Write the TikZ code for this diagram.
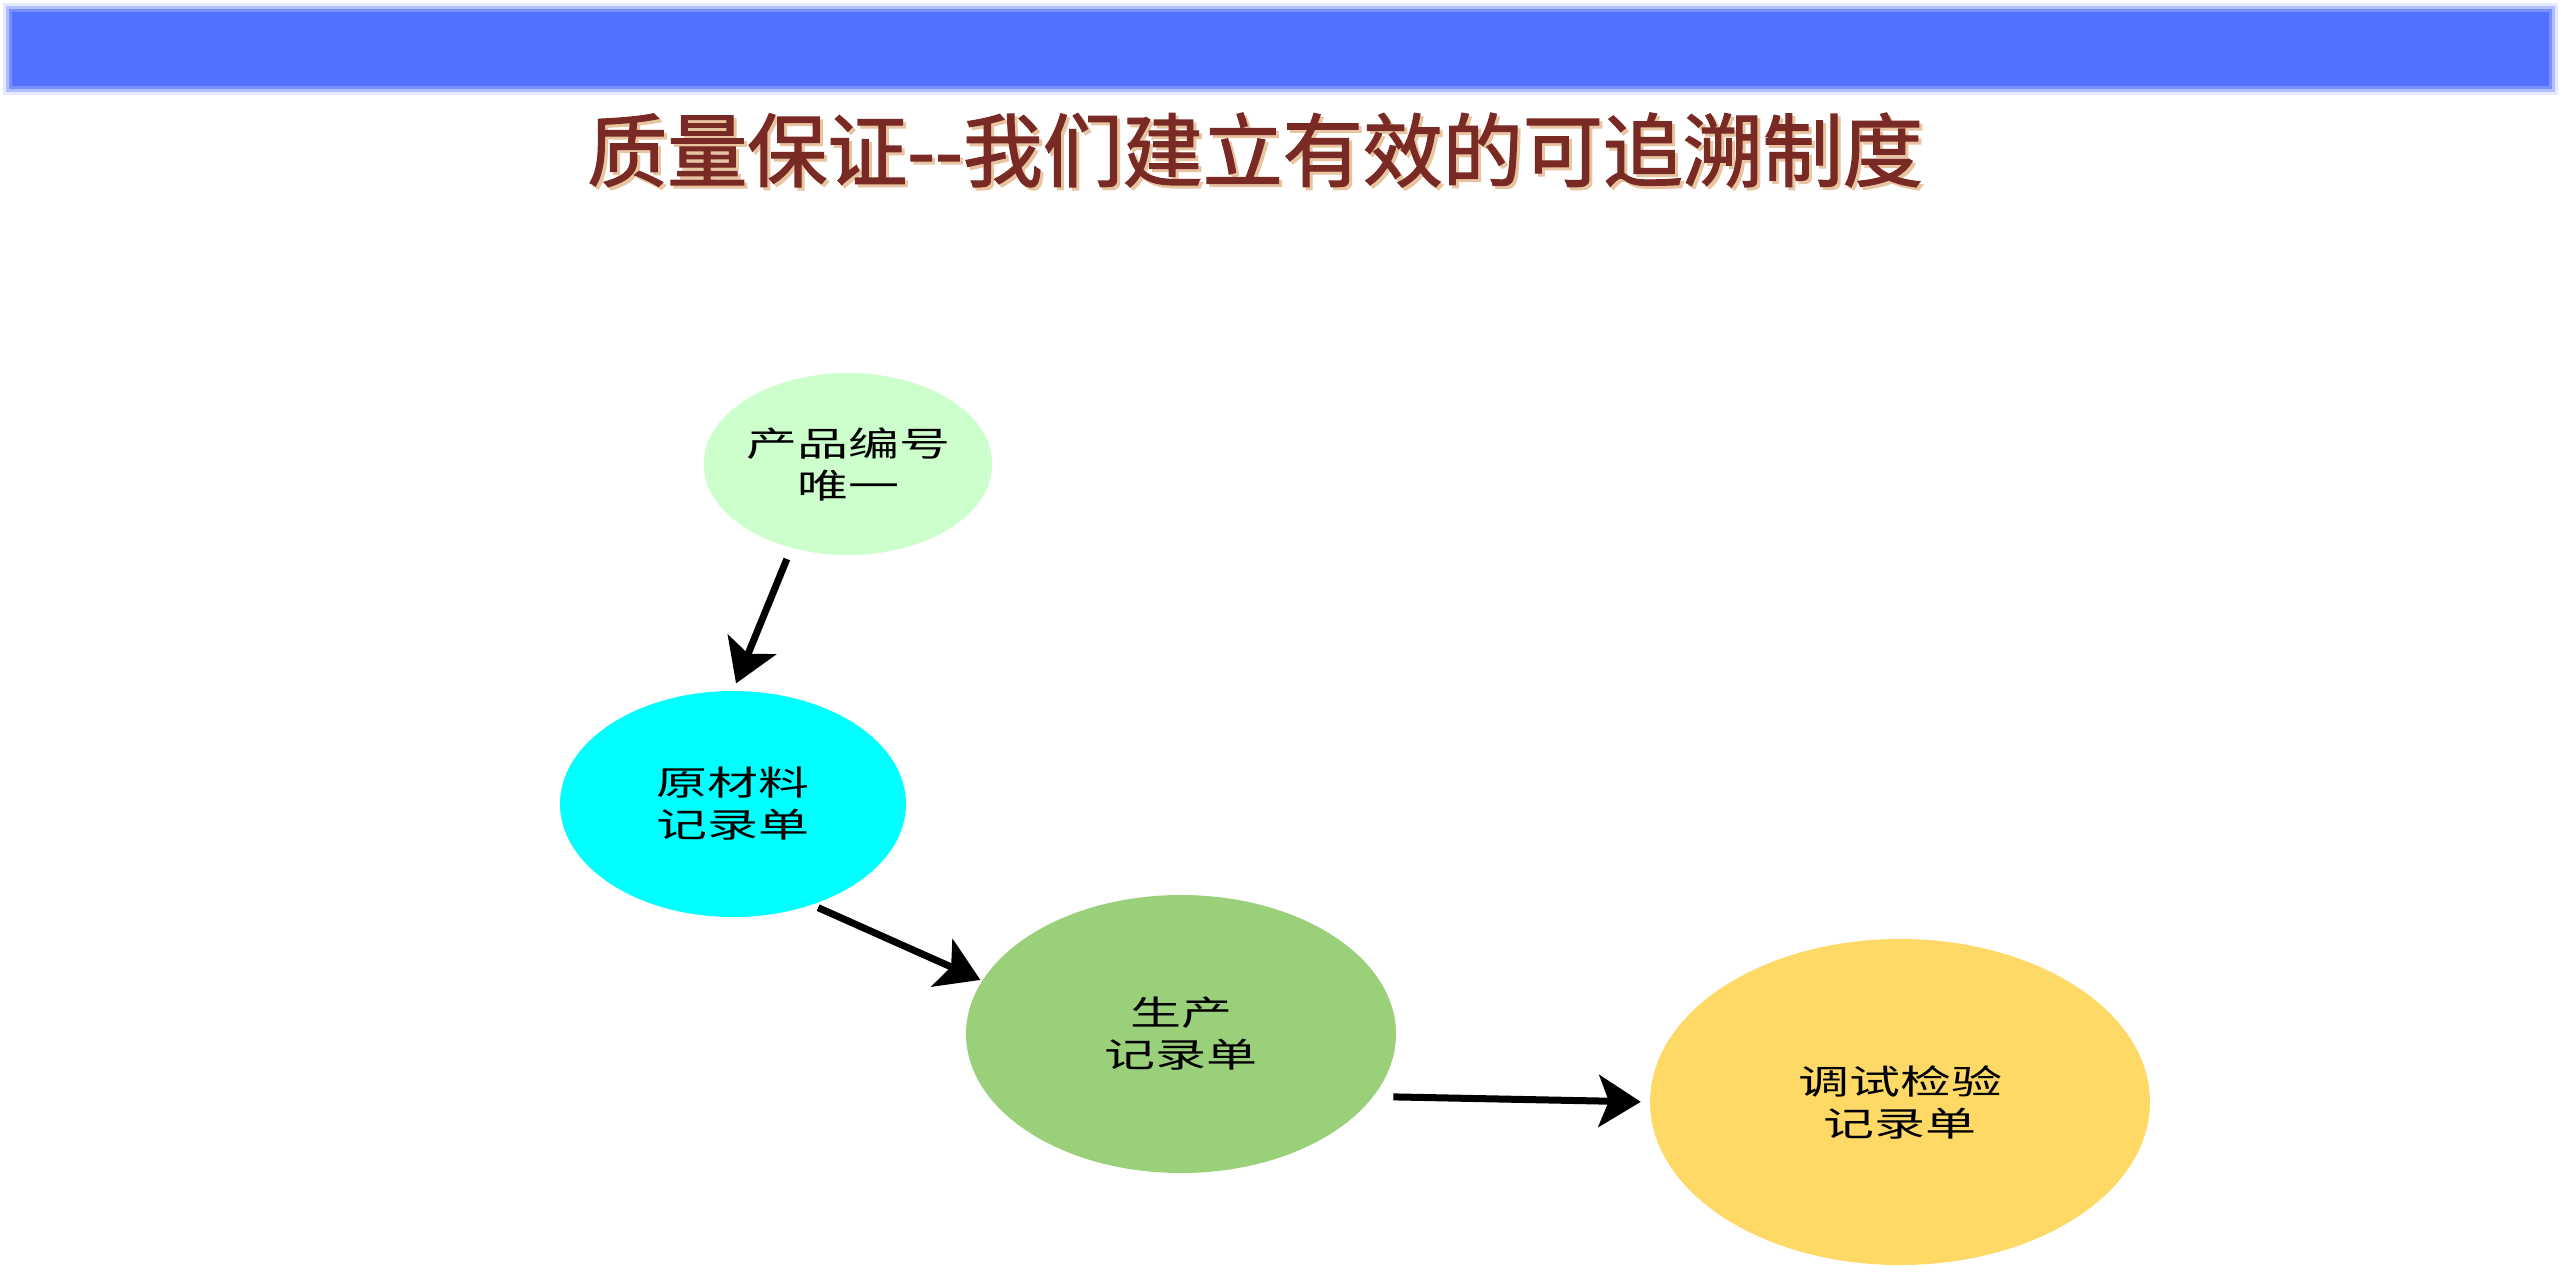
\documentclass[tikz,border=0pt]{standalone}
\usepackage{fontspec}
\setmainfont{Noto Sans CJK SC}
\newfontfamily\cjk{Noto Sans CJK SC}
\newfontfamily\cjktitle{Noto Sans CJK SC}[FakeBold=1.6]
\newfontfamily\cjkwide{Noto Sans CJK SC}[FakeStretch=1.5]
\usetikzlibrary{shapes.geometric,arrows.meta}
\definecolor{barblue}{RGB}{82,113,255}
\definecolor{titlered}{RGB}{122,42,36}
\definecolor{titleshade}{RGB}{232,196,160}
\definecolor{cA}{RGB}{204,255,204}
\definecolor{cB}{RGB}{0,255,255}
\definecolor{cC}{RGB}{154,208,122}
\definecolor{cD}{RGB}{255,217,102}
\begin{document}
\begin{tikzpicture}[x=1pt,y=-1pt,
  bubble/.style={ellipse, inner sep=0pt, align=center,
    font=\cjkwide\fontsize{34}{42}\selectfont, text=black},
  flow/.style={line width=7pt, -{Stealth[length=42pt,width=52pt,inset=10pt]}},
  titletext/.style={font=\cjktitle\fontsize{80}{96}\selectfont}]
\useasboundingbox (0,0) rectangle (2561,1278);
\fill[white] (0,0) rectangle (2561,1278);
% top bar with soft edges
\fill[barblue, opacity=0.15] (3,3) rectangle (2558,95);
\fill[barblue, opacity=0.35] (6,6) rectangle (2555,92);
\fill[barblue, opacity=0.6] (9,9) rectangle (2552,89);
\fill[barblue] (12,12) rectangle (2549,86);
% title
\node[titletext, text=titleshade] (titleshadow) at (1258,153) {质量保证--我们建立有效的可追溯制度};
\node[titletext, text=titlered] (title) at (1255,150) {质量保证--我们建立有效的可追溯制度};
% nodes
\node[bubble, fill=cA, minimum width=280pt, minimum height=182pt] (n1) at (848,464) {产品编号\\唯一};
\node[bubble, fill=cB, minimum width=346pt, minimum height=226pt] (n2) at (733,804) {原材料\\记录单};
\node[bubble, fill=cC, minimum width=430pt, minimum height=278pt] (n3) at (1181,1034) {生产\\记录单};
\node[bubble, fill=cD, minimum width=500pt, minimum height=326pt] (n4) at (1900,1102) {调试检验\\记录单};
% connectors
\draw[flow, shorten <=12pt, shorten >=8pt] (n1.236) -- (n2.90);
\draw[flow, shorten <=7pt, shorten >=2pt] (n2.308) -- (n3.165);
\draw[flow, shorten <=20pt, shorten >=9pt] (n3.342) -- (n4.180);
\end{tikzpicture}
\end{document}
